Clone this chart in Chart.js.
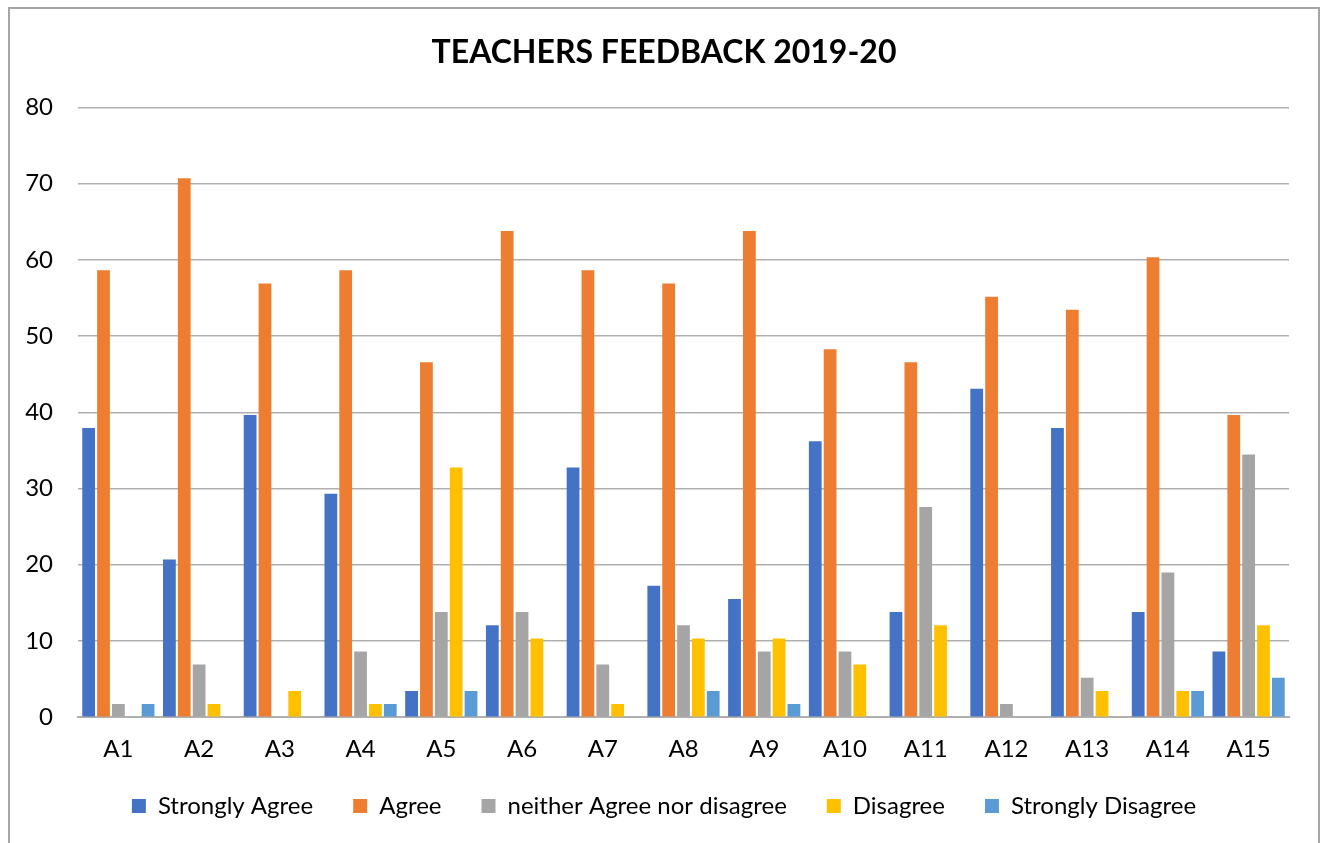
<!DOCTYPE html>
<html>
<head>
<meta charset="utf-8">
<script src="https://cdn.jsdelivr.net/npm/chart.js@4"></script>
<style>
  body { margin: 0; background: #fff; }
  #box {
    position: absolute; left: 8px; top: 7px;
    width: 1308px; height: 880px;
    border: 2px solid #a6a6a6; background: #fff;
  }
</style>
</head>
<body>
<div id="box"><canvas id="feedbackChart" width="1308" height="880"></canvas></div>
<script>
// Teachers feedback 2019-20, percentage of responses per question
var questions = ["A1", "A2", "A3", "A4", "A5", "A6", "A7", "A8", "A9", "A10", "A11", "A12", "A13", "A14", "A15"];
var stronglyAgree = [37.93, 20.69, 39.66, 29.31, 3.45, 12.07, 32.76, 17.24, 15.52, 36.21, 13.79, 43.10, 37.93, 13.79, 8.62];
var agree = [58.62, 70.69, 56.90, 58.62, 46.55, 63.79, 58.62, 56.90, 63.79, 48.28, 46.55, 55.17, 53.45, 60.34, 39.66];
var neither = [1.72, 6.90, 0, 8.62, 13.79, 13.79, 6.90, 12.07, 8.62, 8.62, 27.59, 1.72, 5.17, 18.97, 34.48];
var disagree = [0, 1.72, 3.45, 1.72, 32.76, 10.34, 1.72, 10.34, 10.34, 6.90, 12.07, 0, 3.45, 3.45, 12.07];
var stronglyDisagree = [1.72, 0, 0, 1.72, 3.45, 0, 0, 3.45, 1.72, 0, 0, 0, 0, 3.45, 5.17];

// legend padding also spaces the items apart, so pull the legend up a bit afterwards
var liftLegend = {
    id: "liftLegend",
    afterLayout: function (chart) {
        chart.legend.top -= 28;
        chart.legend.bottom -= 28;
    },
};

document.addEventListener("DOMContentLoaded", function () {
    var ctx = document.getElementById("feedbackChart").getContext("2d");
    var font = "Lato";

    function series(label, data, color) {
        return {
            label: label,
            data: data,
            backgroundColor: color,
            borderWidth: 0,
            categoryPercentage: 0.92,
            barPercentage: 0.86,
        };
    }

    var feedbackChart = new Chart(ctx, {
        type: "bar",
        data: {
            labels: questions,
            datasets: [
                series("Strongly Agree", stronglyAgree, "#4472C4"),
                series("Agree", agree, "#ED7D31"),
                series("neither Agree nor disagree", neither, "#A5A5A5"),
                series("Disagree", disagree, "#FFC000"),
                series("Strongly Disagree", stronglyDisagree, "#5B9BD5"),
            ],
        },
        plugins: [liftLegend],
        options: {
            responsive: false,
            animation: false,
            layout: { padding: { left: 14, right: 14, top: 0, bottom: 33 } },
            plugins: {
                title: {
                    display: true,
                    text: "TEACHERS FEEDBACK 2019-20",
                    color: "#000",
                    font: { family: font, size: 32, weight: "bold" },
                    padding: { top: 24, bottom: 36 },
                },
                legend: {
                    position: "bottom",
                    labels: {
                        color: "#000",
                        font: { family: font, size: 24 },
                        boxWidth: 14,
                        boxHeight: 14,
                        padding: 40,
                    },
                },
                tooltip: { enabled: false },
            },
            scales: {
                x: {
                    grid: { display: false, drawTicks: false },
                    border: { color: "#b0b0b0", width: 2 },
                    ticks: { color: "#000", font: { family: font, size: 24 }, padding: 18 },
                },
                y: {
                    min: 0,
                    max: 80,
                    ticks: { stepSize: 10, color: "#000", font: { family: font, size: 24 }, padding: 25 },
                    grid: { color: "#b0b0b0", lineWidth: 1.5, drawTicks: false },
                    border: { display: false },
                    afterFit: function (scale) { scale.width = 54; },
                },
                // empty right-hand axis, only keeps the plot clear of the right edge
                yr: {
                    position: "right",
                    display: true,
                    grid: { display: false, drawTicks: false },
                    border: { display: false },
                    ticks: { display: false },
                    afterFit: function (scale) { scale.width = 15; },
                },
            },
        },
    });
});
</script>
</body>
</html>
